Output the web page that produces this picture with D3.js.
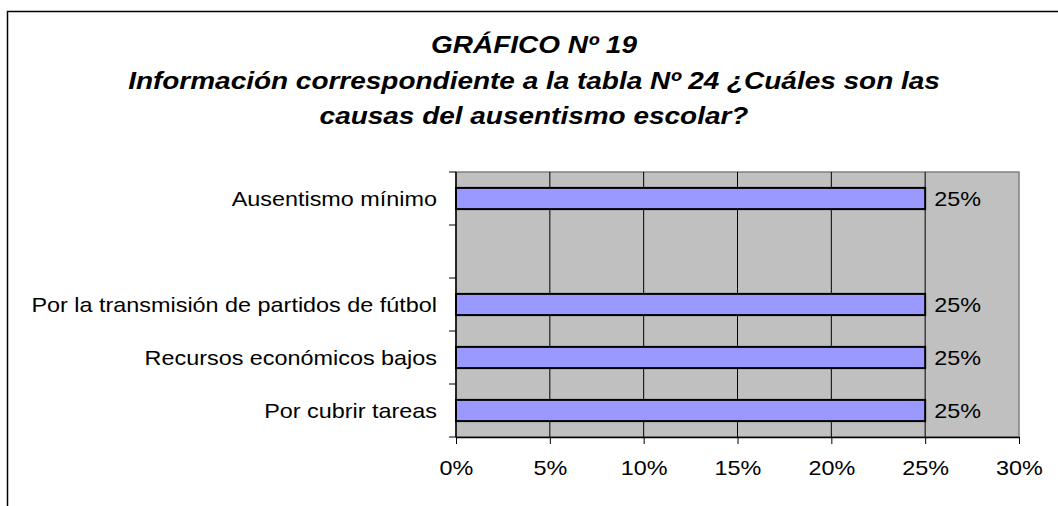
<!DOCTYPE html>
<html>
<head>
<meta charset="utf-8">
<script src="https://cdn.jsdelivr.net/npm/d3@7"></script>
<style>
  body { margin: 0; background: #fff; }
  svg { display: block; font-family: "Liberation Sans", Arial, sans-serif; }
</style>
</head>
<body>
<svg id="chart" width="1058" height="506"></svg>
<script>
const titleLines = ["GRÁFICO Nº 19",
    "Información correspondiente a la tabla Nº 24 ¿Cuáles son las",
    "causas del ausentismo escolar?"]
// top to bottom, the second slot is empty in the original
const categories = ["Ausentismo mínimo", "", "Por la transmisión de partidos de fútbol",
    "Recursos económicos bajos", "Por cubrir tareas"]
const values = [0.25, null, 0.25, 0.25, 0.25]
const xTicks = [0, 0.05, 0.10, 0.15, 0.20, 0.25, 0.30]

const svg = d3.select("#chart")
const margin = {top: 172, right: 39, bottom: 69, left: 456}
const width = 1058, height = 506
// the original text is drawn a bit wider than the font
const stretch = 1.17, titleStretch = 1.165, labelSize = 20

// outer chart frame (runs past right and bottom edge)
svg.append("rect")
    .attr("x", 7.5).attr("y", 11.5)
    .attr("width", 1100).attr("height", 600)
    .attr("fill", "none").attr("stroke", "#000").attr("stroke-width", 1.5)

svg.append("g").selectAll("text")
    .data(titleLines)
    .join("text")
    .attr("transform", (d, i) => `translate(534,${53 + i * 35.5}) scale(${titleStretch},1)`)
    .attr("text-anchor", "middle")
    .attr("font-size", 24)
    .attr("font-weight", "bold")
    .attr("font-style", "italic")
    .text(d => d)

const x = d3.scaleLinear()
    .domain([0, 0.30])
    .range([margin.left, width - margin.right])

const y = d3.scaleBand()
    .domain(d3.range(categories.length))
    .range([margin.top, height - margin.bottom])
    .paddingInner(0.6)
    .paddingOuter(0.3)

// plot area
svg.append("rect")
    .attr("x", x(0)).attr("y", margin.top)
    .attr("width", x(0.30) - x(0))
    .attr("height", height - margin.bottom - margin.top)
    .attr("fill", "#c0c0c0")
    .attr("stroke", "#808080").attr("stroke-width", 1.5)

// vertical grid
svg.append("g").selectAll("line")
    .data(xTicks.slice(1, -1))
    .join("line")
    .attr("x1", d => x(d)).attr("x2", d => x(d))
    .attr("y1", margin.top).attr("y2", height - margin.bottom)
    .attr("stroke", "#000").attr("stroke-width", 1)

const barData = values.map((v, i) => ({v, i})).filter(d => d.v != null)

// bars
svg.append("g").selectAll("rect")
    .data(barData)
    .join("rect")
    .attr("x", x(0))
    .attr("y", d => y(d.i))
    .attr("width", d => x(d.v) - x(0))
    .attr("height", y.bandwidth())
    .attr("fill", "#9999ff")
    .attr("stroke", "#000").attr("stroke-width", 2)

// value labels
svg.append("g").selectAll("text")
    .data(barData)
    .join("text")
    .attr("transform", d => `translate(${x(d.v) + 9},${y(d.i) + y.bandwidth() / 2}) scale(${stretch},1)`)
    .attr("dy", "0.35em")
    .attr("font-size", labelSize)
    .text(d => d3.format(".0%")(d.v))

// x axis
const xAxis = svg.append("g")
    .attr("transform", `translate(0,${height - margin.bottom})`)
    .call(d3.axisBottom(x).tickValues(xTicks).tickFormat(d3.format(".0%"))
        .tickSize(7).tickSizeOuter(0).tickPadding(17))
xAxis.select(".domain").attr("stroke", "#000").attr("stroke-width", 1.5)
xAxis.selectAll(".tick line").attr("stroke", "#000")
xAxis.selectAll("text")
    .attr("font-size", labelSize)
    .attr("font-family", "Liberation Sans, Arial, sans-serif")
    .attr("fill", "#000")
    .attr("transform", `scale(${stretch},1)`)

// y axis: ticks sit on band boundaries
const step = y.step()
const bounds = d3.range(categories.length + 1).map(i => margin.top + i * step)
const yAxis = svg.append("g")
yAxis.append("line")
    .attr("x1", x(0)).attr("x2", x(0))
    .attr("y1", margin.top).attr("y2", height - margin.bottom)
    .attr("stroke", "#000").attr("stroke-width", 1.5)
yAxis.selectAll(".tk")
    .data(bounds)
    .join("line")
    .attr("class", "tk")
    .attr("x1", x(0) - 7).attr("x2", x(0))
    .attr("y1", d => d).attr("y2", d => d)
    .attr("stroke", "#000")
yAxis.selectAll("text")
    .data(categories)
    .join("text")
    .attr("transform", (d, i) => `translate(${x(0) - 19},${y(i) + y.bandwidth() / 2}) scale(${stretch},1)`)
    .attr("dy", "0.35em")
    .attr("text-anchor", "end")
    .attr("font-size", labelSize)
    .text(d => d)
</script>
</body>
</html>
